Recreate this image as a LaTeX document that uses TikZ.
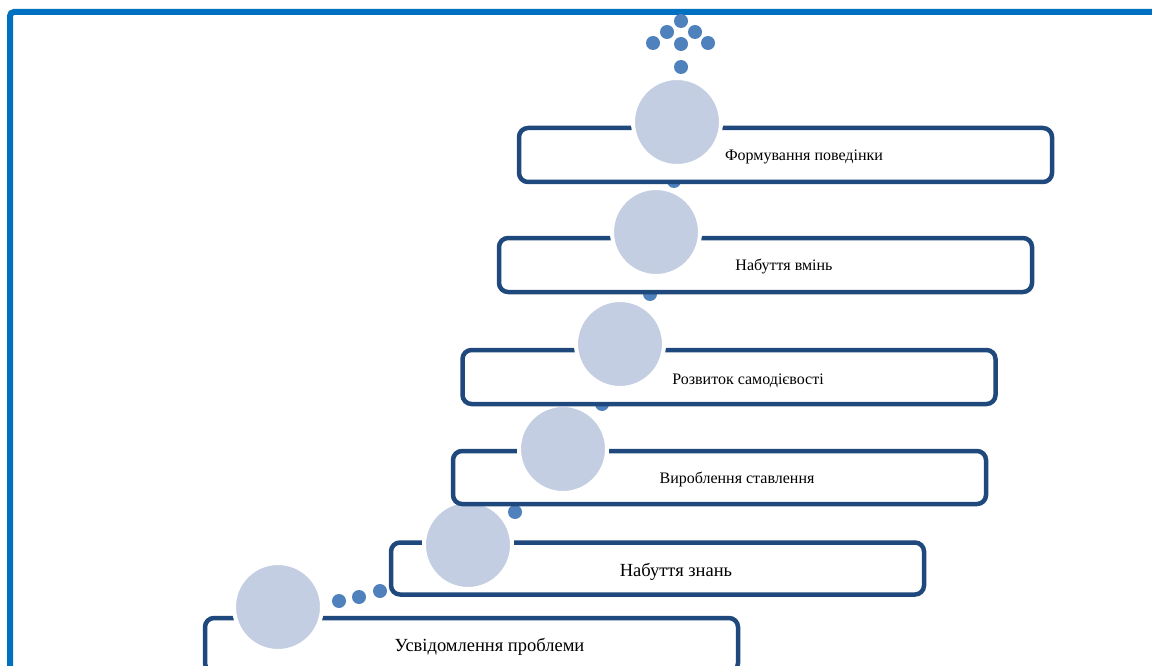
\documentclass[tikz,border=0pt]{standalone}
\usepackage{fontspec}
\setmainfont{Liberation Serif}
\definecolor{boxblue}{HTML}{1F497D}
\definecolor{circfill}{HTML}{C3CEE2}
\definecolor{dotblue}{HTML}{4F81BD}
\definecolor{frameblue}{HTML}{0070C0}
\tikzset{
  stepbox/.style={draw=boxblue, line width=4.5pt, rounded corners=9pt, fill=white,
    minimum width=533pt, minimum height=54pt, inner sep=0pt},
  circ/.style={circle, fill=circfill, draw=white, line width=4pt, minimum size=88pt, inner sep=0pt},
  dotn/.style={circle, fill=dotblue, minimum size=14pt, inner sep=0pt},
  lbl/.style={anchor=base, inner sep=0pt, text=black},
  small/.style={font=\fontsize{16}{19}\selectfont},
  big/.style={font=\fontsize{18.5}{22}\selectfont}
}
\begin{document}
\begin{tikzpicture}[x=1pt,y=-1pt]
\useasboundingbox (0,0) rectangle (1152,666);
\fill[white] (0,0) rectangle (1152,666);
% frame
\coordinate (fa) at (10,690);
\coordinate (fb) at (10,12);
\coordinate (fc) at (1170,12);
\draw[frameblue, line width=6pt, rounded corners=4pt] (fa) -- (fb) -- (fc);
% dots
\node[dotn] (d1) at (339,601) {};
\node[dotn] (d2) at (359,597) {};
\node[dotn] (d3) at (380,591) {};
\node[dotn] (d4) at (515,512) {};
\node[dotn] (d5) at (602,404) {};
\node[dotn] (d6) at (650,294) {};
\node[dotn] (d7) at (674,181) {};
\node[dotn] (d8) at (681,67) {};
\node[dotn] (d9) at (653,43) {};
\node[dotn] (d10) at (681,44) {};
\node[dotn] (d11) at (708,43) {};
\node[dotn] (d12) at (667,32) {};
\node[dotn] (d13) at (695,32) {};
\node[dotn] (d14) at (681,21) {};
% steps, from bottom to top
\node[stepbox] (b1) at (471.5,645) {};
\node[circ] (c1) at (278,607) {};
\node[lbl, big] (t1) at (489.5,651) {Усвідомлення проблеми};
\node[stepbox, minimum height=52pt] (b2) at (657.5,568.5) {};
\node[circ] (c2) at (468,545) {};
\node[lbl, big] (t2) at (676,576) {Набуття знань};
\node[stepbox, minimum height=53pt] (b3) at (719.5,477.5) {};
\node[circ] (c3) at (563,449) {};
\node[lbl, small] (t3) at (737,483) {Вироблення ставлення};
\node[stepbox] (b4) at (729,377) {};
\node[circ] (c4) at (620,344) {};
\node[lbl, small] (t4) at (748,384) {Розвиток самодієвості};
\node[stepbox] (b5) at (765.5,265) {};
\node[circ] (c5) at (656,232) {};
\node[lbl, small] (t5) at (784,270) {Набуття вмінь};
\node[stepbox] (b6) at (785.5,155) {};
\node[circ] (c6) at (677,122) {};
\node[lbl, small] (t6) at (804,161) {Формування поведінки};
\end{tikzpicture}
\end{document}
